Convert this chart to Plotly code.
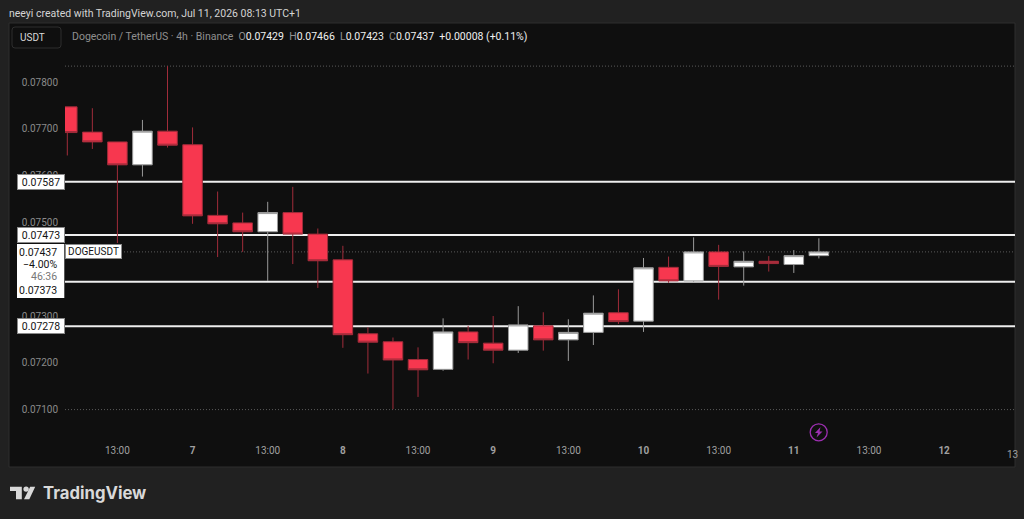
import pandas as pd
import plotly.graph_objects as go

# 4h candles
opens = [0.07747, 0.07693, 0.07672, 0.07623, 0.07695, 0.07666, 0.07515, 0.07499, 0.07480, 0.07521, 0.07475,
         0.07420, 0.07262, 0.07245, 0.07207, 0.07186, 0.07266, 0.07242, 0.07227, 0.07279, 0.07249, 0.07265,
         0.07307, 0.07289, 0.07404, 0.07375, 0.07437, 0.07405, 0.07417, 0.07410, 0.07429]
highs = [0.07747, 0.07744, 0.07672, 0.07719, 0.07834, 0.07703, 0.07566, 0.07521, 0.07544, 0.07576, 0.07487,
         0.07450, 0.07276, 0.07254, 0.07233, 0.07295, 0.07279, 0.07300, 0.07321, 0.07308, 0.07293, 0.07344,
         0.07357, 0.07424, 0.07427, 0.07468, 0.07452, 0.07438, 0.07428, 0.07441, 0.07466]
lows = [0.07643, 0.07657, 0.07456, 0.07598, 0.07660, 0.07497, 0.07426, 0.07437, 0.07375, 0.07411, 0.07360,
        0.07232, 0.07177, 0.07101, 0.07127, 0.07183, 0.07207, 0.07199, 0.07221, 0.07226, 0.07204, 0.07238,
        0.07283, 0.07266, 0.07371, 0.07373, 0.07335, 0.07365, 0.07395, 0.07392, 0.07423]
closes = [0.07692, 0.07672, 0.07623, 0.07695, 0.07665, 0.07514, 0.07497, 0.07480, 0.07521, 0.07475, 0.07418,
          0.07260, 0.07244, 0.07206, 0.07185, 0.07266, 0.07243, 0.07227, 0.07281, 0.07249, 0.07265, 0.07306,
          0.07288, 0.07403, 0.07375, 0.07437, 0.07406, 0.07417, 0.07412, 0.07429, 0.07437]

times = pd.date_range("2026-07-06 05:00", periods=len(opens), freq="4h")

level_prices = [0.07587, 0.07473, 0.07373, 0.07278]
last_price = 0.07437
chart_high = 0.07834
chart_low = 0.07100

# 0.07400 is left out, the last price block covers it
y_ticks = [0.078, 0.077, 0.076, 0.075, 0.073, 0.072, 0.071]
x_tick_times = ["2026-07-06 13:00", "2026-07-07 01:00", "2026-07-07 13:00", "2026-07-08 01:00",
                "2026-07-08 13:00", "2026-07-09 01:00", "2026-07-09 13:00", "2026-07-10 01:00",
                "2026-07-10 13:00", "2026-07-11 01:00", "2026-07-11 13:00", "2026-07-12 01:00"]
x_tick_text = ["13:00", "<b>7</b>", "13:00", "<b>8</b>", "13:00", "<b>9</b>", "13:00", "<b>10</b>",
               "13:00", "<b>11</b>", "13:00", "<b>12</b>"]

# plot area in pixels, the rest of the page is placed relative to it
W, H = 1024, 519
L, R, T, B = 65, 1015, 24, 443
FONT = "Roboto"


def px(x):
    return (x - L) / (R - L)


def py(y):
    return (B - y) / (B - T)


fig = go.Figure()

fig.add_trace(go.Candlestick(
    x=times, open=opens, high=highs, low=lows, close=closes,
    increasing=dict(line=dict(color="#9a9a9a", width=1), fillcolor="#ffffff"),
    decreasing=dict(line=dict(color="#a02c3a", width=1), fillcolor="#f7374f"),
    showlegend=False,
    hoverinfo="none",
))

shapes = []

# dark chart panel
shapes.append(dict(type="rect", xref="paper", yref="paper", layer="below",
                   x0=px(9), x1=px(1015), y0=py(467), y1=py(23),
                   fillcolor="#0f0f0f", line=dict(color="#2e2e2e", width=1)))

# USDT box
shapes.append(dict(type="path", xref="paper", yref="paper", layer="below",
                   path=f"M {px(15)} {py(27)} L {px(58)} {py(27)} Q {px(61)} {py(27)} {px(61)} {py(30)} "
                        f"L {px(61)} {py(45)} Q {px(61)} {py(48)} {px(58)} {py(48)} L {px(15)} {py(48)} "
                        f"Q {px(12)} {py(48)} {px(12)} {py(45)} L {px(12)} {py(30)} Q {px(12)} {py(27)} {px(15)} {py(27)} Z",
                   line=dict(color="#2e2e2e", width=1), fillcolor="#0f0f0f"))

# dotted high / low / last price lines
for price, start in [(chart_high, 0), (chart_low, 0), (last_price, px(121))]:
    shapes.append(dict(type="line", xref="paper", yref="y", layer="below",
                       x0=start, x1=1, y0=price, y1=price,
                       line=dict(color="#5a5a5a", width=1, dash="1px,2px")))

# horizontal levels, behind the candles
for price in level_prices:
    shapes.append(dict(type="line", xref="paper", yref="y", layer="below",
                       x0=0, x1=1, y0=price, y1=price,
                       line=dict(color="#eeeeee", width=2)))

# white box behind last price, countdown and the 0.07373 level
shapes.append(dict(type="rect", xref="paper", yref="paper",
                   x0=px(17), x1=px(64.3), y0=py(298), y1=py(244),
                   fillcolor="#ffffff", line=dict(width=0)))

# lightning icon
shapes.append(dict(type="circle", xref="paper", yref="paper",
                   x0=px(810.2), x1=px(827.2), y0=py(440.8), y1=py(423.8),
                   line=dict(color="#9c2fb0", width=1.3)))
shapes.append(dict(type="path", xref="paper", yref="paper",
                   path=f"M {px(820.5)} {py(427)} L {px(815)} {py(433)} L {px(818)} {py(433)} "
                        f"L {px(816.5)} {py(437.5)} L {px(822.5)} {py(431.5)} L {px(819.5)} {py(431.5)} Z",
                   line=dict(width=0), fillcolor="#9c2fb0"))

# TradingView logo
logo_color = "#d9d9d9"
shapes.append(dict(type="path", xref="paper", yref="paper",
                   path=f"M {px(10)} {py(486.7)} L {px(21.8)} {py(486.7)} L {px(21.8)} {py(499.3)} L {px(16)} {py(499.3)} "
                        f"L {px(16)} {py(491)} L {px(10)} {py(491)} Z",
                   line=dict(width=0), fillcolor=logo_color))
shapes.append(dict(type="circle", xref="paper", yref="paper",
                   x0=px(23.4), x1=px(28.8), y0=py(491.8), y1=py(486.4),
                   line=dict(width=0), fillcolor=logo_color))
shapes.append(dict(type="path", xref="paper", yref="paper",
                   path=f"M {px(30.2)} {py(486.7)} L {px(35.2)} {py(486.7)} L {px(29.3)} {py(499.3)} L {px(24)} {py(499.3)} Z",
                   line=dict(width=0), fillcolor=logo_color))

annotations = []


def label(x, y, text, size=10.5, color="#d8d8d8", **kw):
    annotations.append(dict(xref="paper", yref="paper", x=px(x), y=py(y), text=text, showarrow=False,
                            xanchor=kw.pop("xanchor", "left"), yanchor="middle",
                            borderpad=0,
                            font=dict(family=kw.pop("family", FONT), size=size, color=color), **kw))


label(8, 13, "neeyi created with TradingView.com, Jul 11, 2026 08:13 UTC+1", size=10.5, color="#d4d4d4")
label(32, 37.5, "USDT", size=10, color="#d8d8d8", xanchor="center")

grey = "#8f8f8f"
header = (f"<span style='color:{grey}'>Dogecoin / TetherUS · 4h · Binance</span>  "
          f"<span style='color:{grey}'>O</span>{opens[-1]:.5f}  "
          f"<span style='color:{grey}'>H</span>{highs[-1]:.5f}  "
          f"<span style='color:{grey}'>L</span>{lows[-1]:.5f}  "
          f"<span style='color:{grey}'>C</span>{closes[-1]:.5f}  "
          f"+0.00008 (+0.11%)")
label(71, 36.5, header, size=10.5, color="#f0f0f0")

label(1006, 455, "13", size=10, color="#a0a0a0")
label(41.5, 493, "<b>TradingView</b>", size=16.7, color="#d9d9d9", family="Inter")

# white price boxes on the axis, the 0.07373 label sits in the last price block instead
for price in level_prices:
    if price == level_prices[2]:
        continue
    annotations.append(dict(xref="paper", yref="y", x=px(64.5), y=price, text=f"{price:.5f}", showarrow=False,
                            xanchor="right", yanchor="middle", width=46, height=14, align="center",
                            bgcolor="#ffffff", bordercolor="#8a8a8a", borderwidth=1, borderpad=0,
                            font=dict(family=FONT, size=10.5, color="#131313")))

# last price block, right aligned inside the white box
label(57.5, 252, f"{last_price:.5f}", size=10.5, color="#131313", xanchor="right")
label(57.5, 264, "−4.00%", size=10.5, color="#131313", xanchor="right")
label(57.5, 276, "46:36", size=10.5, color="#777777", xanchor="right")
label(57.5, 290.5, f"{level_prices[2]:.5f}", size=10.5, color="#131313", xanchor="right")

annotations.append(dict(xref="paper", yref="y", x=px(65), y=last_price, text="DOGEUSDT", showarrow=False,
                        xanchor="left", yanchor="middle", width=55, height=13, align="center",
                        bgcolor="#ffffff", bordercolor="#8a8a8a", borderwidth=1, borderpad=0,
                        font=dict(family=FONT, size=10, color="#131313")))

fig.update_layout(
    width=W, height=H,
    margin=dict(l=L, r=W - R, t=T, b=H - B, autoexpand=False),
    paper_bgcolor="#212121",
    plot_bgcolor="#0f0f0f",
    showlegend=False,
    boxgap=0.22,
    boxgroupgap=0,
    shapes=shapes,
    annotations=annotations,
    font=dict(family=FONT),
    xaxis=dict(
        type="date",
        range=["2026-07-06 04:38", "2026-07-12 12:19"],
        rangeslider=dict(visible=False),
        showgrid=False, zeroline=False, showline=False, ticks="",
        tickmode="array", tickvals=x_tick_times, ticktext=x_tick_text,
        tickfont=dict(size=10, color="#a0a0a0"),
    ),
    yaxis=dict(
        range=[0.070286, 0.07924],
        showgrid=False, zeroline=False, showline=False, ticks="",
        tickmode="array", tickvals=y_ticks, tickformat=".5f",
        tickfont=dict(size=10, color="#8a8a8a"),
        ticklabelstandoff=6,
    ),
)

# the page body has a default margin, drop it so the figure fills the window
fig.write_html("out.html", config={"displayModeBar": False},
               post_script="document.body.style.margin='0';document.documentElement.style.overflow='hidden';")
